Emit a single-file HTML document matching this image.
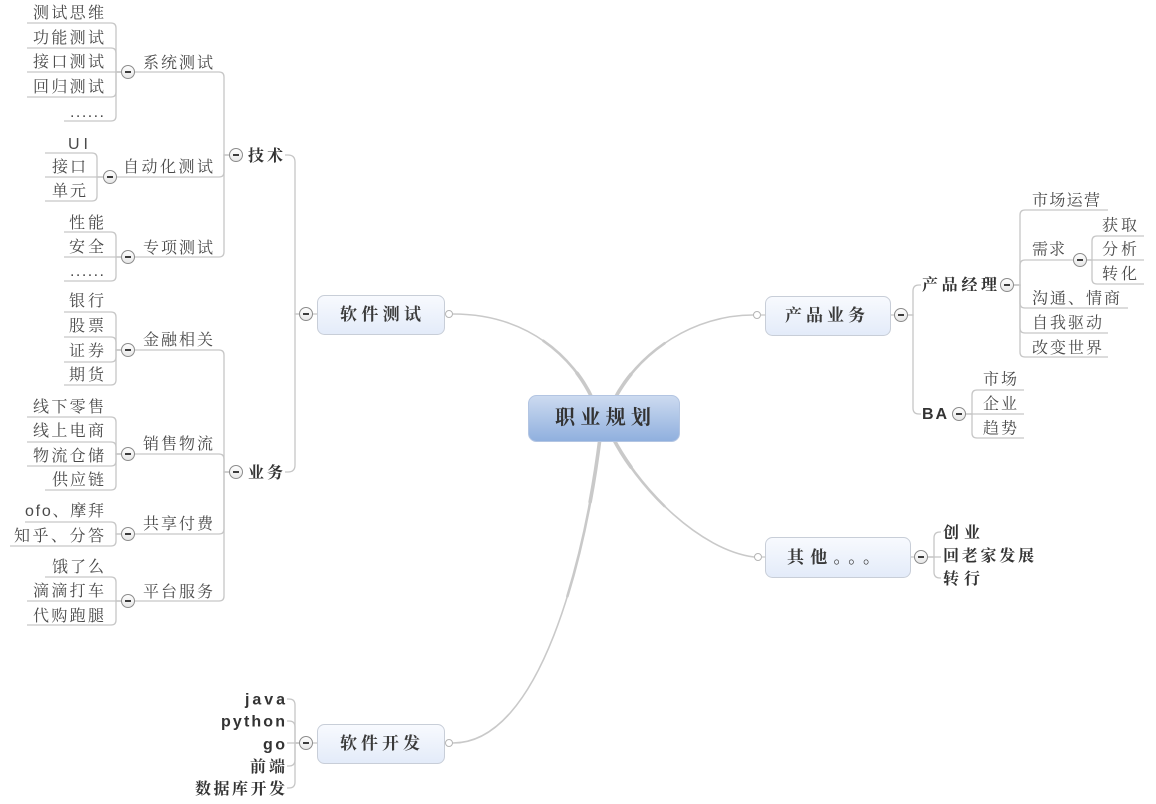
<!DOCTYPE html>
<html><head><meta charset="utf-8"><style>
html,body{margin:0;padding:0;background:#fff;}
svg{display:block;}
.t{font-family:"Liberation Sans","Noto Serif CJK SC",serif;font-size:16px;fill:#4a4a4a;}
.b{font-family:"Liberation Sans","Noto Serif CJK SC",serif;font-size:16px;font-weight:bold;fill:#333;}
.bx{font-family:"Liberation Sans","Noto Serif CJK SC",serif;font-size:17px;font-weight:bold;fill:#3a3a3a;}
.c{font-family:"Liberation Sans","Noto Serif CJK SC",serif;font-size:20px;font-weight:bold;fill:#333;}
</style></head><body>
<svg width="1156" height="804" viewBox="0 0 1156 804" xmlns="http://www.w3.org/2000/svg">
<defs>
<linearGradient id="bg" x1="0" y1="0" x2="0" y2="1"><stop offset="0" stop-color="#f8fafe"/><stop offset="1" stop-color="#e3ebf9"/></linearGradient>
<linearGradient id="cg" x1="0" y1="0" x2="0" y2="1"><stop offset="0" stop-color="#cddbf0"/><stop offset="1" stop-color="#8fafde"/></linearGradient>
<linearGradient id="mg" x1="0" y1="0" x2="0" y2="1"><stop offset="0" stop-color="#ffffff"/><stop offset="1" stop-color="#e6e6e6"/></linearGradient>
</defs>

<!-- main curves -->
<g fill="none" stroke="#c9c9c9" stroke-linecap="round">
<path d="M593,400 C575,360 530,314 453,314" stroke-width="1.6"/>
<path d="M614,400 C640,350 695,315 753,315" stroke-width="1.6"/>
<path d="M613,438 C640,490 700,550 754,557" stroke-width="1.6"/>
<path d="M600,438 C585,560 540,743 453,743" stroke-width="1.6"/>
<path d="M593,400 C575,360 530,314 453,314" stroke-width="2.6" pathLength="100" stroke-dasharray="45 200"/>
<path d="M614,400 C640,350 695,315 753,315" stroke-width="2.6" pathLength="100" stroke-dasharray="45 200"/>
<path d="M613,438 C640,490 700,550 754,557" stroke-width="2.6" pathLength="100" stroke-dasharray="45 200"/>
<path d="M600,438 C585,560 540,743 453,743" stroke-width="2.6" pathLength="100" stroke-dasharray="45 200"/>
<path d="M593,400 C575,360 530,314 453,314" stroke-width="3.6" pathLength="100" stroke-dasharray="18 200"/>
<path d="M614,400 C640,350 695,315 753,315" stroke-width="3.6" pathLength="100" stroke-dasharray="18 200"/>
<path d="M613,438 C640,490 700,550 754,557" stroke-width="3.6" pathLength="100" stroke-dasharray="18 200"/>
<path d="M600,438 C585,560 540,743 453,743" stroke-width="3.6" pathLength="100" stroke-dasharray="18 200"/>
</g>

<!-- connectors -->
<g fill="none" stroke="#c6c6c6" stroke-width="1.3">
<path d="M312.5,314 H317"/>
<path d="M299.5,314 H295 V162 Q295,155 288,155 H285"/>
<path d="M299.5,314 H295 V465 Q295,472 288,472 H285"/>
<path d="M229.5,155 H224 V77 Q224,72 219,72 H134.5"/>
<path d="M229.5,155 H224 V172 Q224,177 219,177 H116.5"/>
<path d="M229.5,155 H224 V252 Q224,257 219,257 H134.5"/>
<path d="M121.5,72 H116 V28 Q116,23 111,23 H27"/>
<path d="M121.5,72 H116 V53 Q116,48 111,48 H27"/>
<path d="M121.5,72 H27"/>
<path d="M121.5,72 H116 V92 Q116,97 111,97 H27"/>
<path d="M121.5,72 H116 V116 Q116,121 111,121 H64"/>
<path d="M103.5,177 H97 V158 Q97,153 92,153 H45"/>
<path d="M103.5,177 H45"/>
<path d="M103.5,177 H97 V196 Q97,201 92,201 H45"/>
<path d="M121.5,257 H116 V237 Q116,232 111,232 H64"/>
<path d="M121.5,257 H64"/>
<path d="M121.5,257 H116 V276 Q116,281 111,281 H64"/>
<path d="M229.5,472 H224 V355 Q224,350 219,350 H134.5"/>
<path d="M229.5,472 H224 V459 Q224,454 219,454 H134.5"/>
<path d="M229.5,472 H224 V529 Q224,534 219,534 H134.5"/>
<path d="M229.5,472 H224 V596 Q224,601 219,601 H134.5"/>
<path d="M121.5,350 H116 V317 Q116,312 111,312 H64"/>
<path d="M121.5,350 H116 V342 Q116,337 111,337 H64"/>
<path d="M121.5,350 H116 V357 Q116,362 111,362 H64"/>
<path d="M121.5,350 H116 V380 Q116,385 111,385 H64"/>
<path d="M121.5,454 H116 V422 Q116,417 111,417 H27"/>
<path d="M121.5,454 H116 V447 Q116,442 111,442 H27"/>
<path d="M121.5,454 H116 V461 Q116,466 111,466 H27"/>
<path d="M121.5,454 H116 V485 Q116,490 111,490 H45"/>
<path d="M121.5,534 H116 V527 Q116,522 111,522 H25"/>
<path d="M121.5,534 H116 V541 Q116,546 111,546 H10"/>
<path d="M121.5,601 H116 V582 Q116,577 111,577 H45"/>
<path d="M121.5,601 H27"/>
<path d="M121.5,601 H116 V620 Q116,625 111,625 H27"/>
<path d="M312.5,743 H317"/>
<path d="M299.5,743 H295 V705 Q295,699 289,699 H287"/>
<path d="M299.5,743 H295 V727 Q295,721 289,721 H287"/>
<path d="M299.5,743 H287"/>
<path d="M299.5,743 H295 V760 Q295,766 289,766 H287"/>
<path d="M299.5,743 H295 V782 Q295,788 289,788 H287"/>
<path d="M890,315 H894.5"/>
<path d="M907.5,315 H913 V291 Q913,285 919,285 H921"/>
<path d="M907.5,315 H913 V408 Q913,414 919,414 H921"/>
<path d="M1013.5,285 H1020 V215 Q1020,210 1025,210 H1108"/>
<path d="M1013.5,285 H1020 V265 Q1020,260 1025,260 H1073.5"/>
<path d="M1013.5,285 H1020 V303 Q1020,308 1025,308 H1128"/>
<path d="M1013.5,285 H1020 V328 Q1020,333 1025,333 H1108"/>
<path d="M1013.5,285 H1020 V352 Q1020,357 1025,357 H1108"/>
<path d="M1086.5,260 H1092 V241 Q1092,236 1097,236 H1144"/>
<path d="M1086.5,260 H1144"/>
<path d="M1086.5,260 H1092 V279 Q1092,284 1097,284 H1144"/>
<path d="M965.5,414 H972 V395 Q972,390 977,390 H1024"/>
<path d="M965.5,414 H1024"/>
<path d="M965.5,414 H972 V433 Q972,438 977,438 H1024"/>
<path d="M910,557 H914.5"/>
<path d="M927.5,557 H934 V538 Q934,532 940,532 H941"/>
<path d="M927.5,557 H941"/>
<path d="M927.5,557 H934 V572 Q934,578 940,578 H941"/>
</g>

<!-- boxes -->
<rect x="528.5" y="395.5" width="151" height="46" rx="8" fill="url(#cg)" stroke="#b3c5e2" stroke-width="1"/>
<rect x="317.5" y="295.5" width="127" height="39" rx="7" fill="url(#bg)" stroke="#c8ced8" stroke-width="1"/>
<rect x="765.5" y="296.5" width="125" height="39" rx="7" fill="url(#bg)" stroke="#c8ced8" stroke-width="1"/>
<rect x="317.5" y="724.5" width="127" height="39" rx="7" fill="url(#bg)" stroke="#c8ced8" stroke-width="1"/>
<rect x="765.5" y="537.5" width="145" height="40" rx="7" fill="url(#bg)" stroke="#c8ced8" stroke-width="1"/>

<!-- rings -->
<g fill="#fff" stroke="#b5b5b5" stroke-width="1">
<circle cx="449" cy="314" r="3.5"/>
<circle cx="449" cy="743" r="3.5"/>
<circle cx="757" cy="315" r="3.5"/>
<circle cx="758" cy="557" r="3.5"/>
</g>
<g fill="none" stroke="#c6c6c6" stroke-width="1.2">
<path d="M444.5,314 H445.5 M444.5,743 H445.5 M760.5,315 H765.5 M761.5,557 H765.5"/>
</g>

<!-- minus circles -->
<g stroke="#8c8c8c" stroke-width="1" fill="url(#mg)">
<circle cx="306" cy="314" r="6.5"/>
<circle cx="236" cy="155" r="6.5"/>
<circle cx="236" cy="472" r="6.5"/>
<circle cx="128" cy="72" r="6.5"/>
<circle cx="110" cy="177" r="6.5"/>
<circle cx="128" cy="257" r="6.5"/>
<circle cx="128" cy="350" r="6.5"/>
<circle cx="128" cy="454" r="6.5"/>
<circle cx="128" cy="534" r="6.5"/>
<circle cx="128" cy="601" r="6.5"/>
<circle cx="306" cy="743" r="6.5"/>
<circle cx="901" cy="315" r="6.5"/>
<circle cx="1007" cy="285" r="6.5"/>
<circle cx="1080" cy="260" r="6.5"/>
<circle cx="959" cy="414" r="6.5"/>
<circle cx="921" cy="557" r="6.5"/>
</g>
<g stroke="#222" stroke-width="1.8">
<path d="M303,314 h6 M233,155 h6 M233,472 h6 M125,72 h6 M107,177 h6 M125,257 h6 M125,350 h6 M125,454 h6 M125,534 h6 M125,601 h6 M303,743 h6 M898,315 h6 M1004,285 h6 M1077,260 h6 M956,414 h6 M918,557 h6"/>
</g>

<!-- box texts -->
<text class="c" x="555" y="424" textLength="96" lengthAdjust="spacing">职业规划</text>
<text class="bx" x="340" y="320" textLength="81" lengthAdjust="spacing">软件测试</text>
<text class="bx" x="785" y="321" textLength="80" lengthAdjust="spacing">产品业务</text>
<text class="bx" x="340" y="749" textLength="80" lengthAdjust="spacing">软件开发</text>
<text class="bx" x="787" y="563" textLength="93" lengthAdjust="spacing">其他。。。</text>

<!-- bold texts -->
<text class="b" x="248" y="161" textLength="35" lengthAdjust="spacing">技术</text>
<text class="b" x="248" y="478" textLength="35" lengthAdjust="spacing">业务</text>
<text class="b" x="245" y="704.5" textLength="40" lengthAdjust="spacing">java</text>
<text class="b" x="221" y="726.5" textLength="64" lengthAdjust="spacing">python</text>
<text class="b" x="263" y="749.5" textLength="22" lengthAdjust="spacing">go</text>
<text class="b" x="250" y="772" textLength="35" lengthAdjust="spacing">前端</text>
<text class="b" x="195" y="794" textLength="90" lengthAdjust="spacing">数据库开发</text>
<text class="b" x="922" y="290" textLength="75" lengthAdjust="spacing">产品经理</text>
<text class="b" x="922" y="419" textLength="25" lengthAdjust="spacing">BA</text>
<text class="b" x="943" y="538" textLength="37" lengthAdjust="spacing">创业</text>
<text class="b" x="943" y="561" textLength="91" lengthAdjust="spacing">回老家发展</text>
<text class="b" x="943" y="584" textLength="37" lengthAdjust="spacing">转行</text>

<!-- regular texts left -->
<text class="t" x="33" y="18" textLength="71" lengthAdjust="spacing">测试思维</text>
<text class="t" x="33" y="43" textLength="71" lengthAdjust="spacing">功能测试</text>
<text class="t" x="33" y="67" textLength="71" lengthAdjust="spacing">接口测试</text>
<text class="t" x="33" y="92" textLength="71" lengthAdjust="spacing">回归测试</text>
<text class="t" x="70" y="117" textLength="34" lengthAdjust="spacing">......</text>
<text class="t" x="143" y="68" textLength="70" lengthAdjust="spacing">系统测试</text>
<text class="t" x="68" y="149" textLength="20" lengthAdjust="spacing">UI</text>
<text class="t" x="52" y="172" textLength="34" lengthAdjust="spacing">接口</text>
<text class="t" x="52" y="196" textLength="34" lengthAdjust="spacing">单元</text>
<text class="t" x="123" y="172" textLength="90" lengthAdjust="spacing">自动化测试</text>
<text class="t" x="69" y="228" textLength="35" lengthAdjust="spacing">性能</text>
<text class="t" x="69" y="252" textLength="35" lengthAdjust="spacing">安全</text>
<text class="t" x="70" y="276" textLength="34" lengthAdjust="spacing">......</text>
<text class="t" x="143" y="253" textLength="70" lengthAdjust="spacing">专项测试</text>
<text class="t" x="69" y="306" textLength="35" lengthAdjust="spacing">银行</text>
<text class="t" x="69" y="331" textLength="35" lengthAdjust="spacing">股票</text>
<text class="t" x="69" y="356" textLength="35" lengthAdjust="spacing">证券</text>
<text class="t" x="69" y="380" textLength="35" lengthAdjust="spacing">期货</text>
<text class="t" x="143" y="345" textLength="70" lengthAdjust="spacing">金融相关</text>
<text class="t" x="33" y="412" textLength="71" lengthAdjust="spacing">线下零售</text>
<text class="t" x="33" y="436" textLength="71" lengthAdjust="spacing">线上电商</text>
<text class="t" x="33" y="461" textLength="71" lengthAdjust="spacing">物流仓储</text>
<text class="t" x="52" y="485" textLength="52" lengthAdjust="spacing">供应链</text>
<text class="t" x="143" y="449" textLength="70" lengthAdjust="spacing">销售物流</text>
<text class="t" x="25" y="516" textLength="79" lengthAdjust="spacing">ofo、摩拜</text>
<text class="t" x="14" y="541" textLength="90" lengthAdjust="spacing">知乎、分答</text>
<text class="t" x="143" y="529" textLength="70" lengthAdjust="spacing">共享付费</text>
<text class="t" x="52" y="572" textLength="52" lengthAdjust="spacing">饿了么</text>
<text class="t" x="33" y="596" textLength="71" lengthAdjust="spacing">滴滴打车</text>
<text class="t" x="33" y="621" textLength="71" lengthAdjust="spacing">代购跑腿</text>
<text class="t" x="143" y="597" textLength="70" lengthAdjust="spacing">平台服务</text>

<!-- regular texts right -->
<text class="t" x="1032" y="205.5" textLength="68" lengthAdjust="spacing">市场运营</text>
<text class="t" x="1032" y="254.5" textLength="33" lengthAdjust="spacing">需求</text>
<text class="t" x="1102" y="230.5" textLength="35" lengthAdjust="spacing">获取</text>
<text class="t" x="1102" y="254.5" textLength="35" lengthAdjust="spacing">分析</text>
<text class="t" x="1102" y="279" textLength="35" lengthAdjust="spacing">转化</text>
<text class="t" x="1032" y="303.5" textLength="88" lengthAdjust="spacing">沟通、情商</text>
<text class="t" x="1032" y="328" textLength="70" lengthAdjust="spacing">自我驱动</text>
<text class="t" x="1032" y="353" textLength="70" lengthAdjust="spacing">改变世界</text>
<text class="t" x="983" y="384.5" textLength="34" lengthAdjust="spacing">市场</text>
<text class="t" x="983" y="409" textLength="34" lengthAdjust="spacing">企业</text>
<text class="t" x="983" y="433.5" textLength="34" lengthAdjust="spacing">趋势</text>
</svg>
</body></html>
